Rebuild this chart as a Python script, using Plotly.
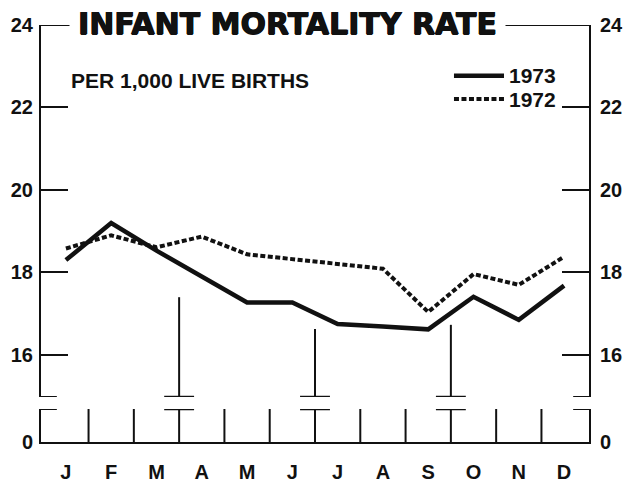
import plotly.graph_objects as go

# ---- data ----
months = ["J", "F", "M", "A", "M", "J", "J", "A", "S", "O", "N", "D"]
rate_1973 = [18.30, 19.20, 18.53, 17.89, 17.27, 17.27, 16.75, 16.69, 16.62, 17.41, 16.85, 17.68]
rate_1972 = [18.58, 18.90, 18.61, 18.87, 18.44, 18.33, 18.21, 18.09, 17.04, 17.96, 17.70, 18.38]
upper_ticks = [16, 18, 20, 22, 24]
lower_ticks = [0]
break_positions = [2.5, 5.5, 8.5]      # month boundaries M|A, J|J, S|O
break_tops = [17.40, 16.63, 16.73]     # top of the long break lines

x = list(range(len(months)))
X_MIN, X_MAX = -0.55, len(months) - 0.45
Y_LOW, Y_TOP = 14.98, 24.0
FONT = "Liberation Sans, Arial, sans-serif"
BLACK = "#111111"

fig = go.Figure()
fig.add_trace(go.Scatter(x=x, y=rate_1972, mode="lines", name="1972",
                         line=dict(color=BLACK, width=4, dash="5px,2.5px"),
                         xaxis="x", yaxis="y", showlegend=False, hoverinfo="skip"))
fig.add_trace(go.Scatter(x=x, y=rate_1973, mode="lines", name="1973",
                         line=dict(color=BLACK, width=4.5),
                         xaxis="x", yaxis="y", showlegend=False, hoverinfo="skip"))
# invisible helpers so the right-hand axes are drawn
fig.add_trace(go.Scatter(x=[0], y=[20], mode="markers", marker=dict(opacity=0),
                         yaxis="y3", showlegend=False, hoverinfo="skip"))
fig.add_trace(go.Scatter(x=[0], y=[0], mode="markers", marker=dict(opacity=0),
                         yaxis="y2", showlegend=False, hoverinfo="skip"))
fig.add_trace(go.Scatter(x=[0], y=[0], mode="markers", marker=dict(opacity=0),
                         yaxis="y4", showlegend=False, hoverinfo="skip"))

tickfont = dict(family=FONT, size=20, color=BLACK, weight="bold")
common_y = dict(showgrid=False, zeroline=False, showline=True, linecolor=BLACK,
                linewidth=2, tickfont=tickfont, anchor="x", automargin=False)

shapes = []
def seg(x0, y0, x1, y1, yref="y", xref="x", w=2, dash=None):
    ln = dict(color=BLACK, width=w)
    if dash:
        ln["dash"] = dash
    shapes.append(dict(type="line", xref=xref, yref=yref, x0=x0, y0=y0, x1=x1, y1=y1,
                       line=ln, layer="above"))

# top frame line at 24
seg(X_MIN, Y_TOP, X_MAX, Y_TOP)
# brackets at the axis break
bw = 0.35
seg(X_MIN, Y_LOW, X_MIN + bw, Y_LOW)
seg(X_MAX - bw, Y_LOW, X_MAX, Y_LOW)
seg(X_MIN, 1, X_MIN + bw, 1, yref="y2")
seg(X_MAX - bw, 1, X_MAX, 1, yref="y2")
# month boundary ticks in the lower band
for i in range(len(months) - 1):
    seg(i + 0.5, 0, i + 0.5, 1, yref="y2")
# break markers
hb = 0.33
for bx, top in zip(break_positions, break_tops):
    seg(bx, top, bx, Y_LOW)
    seg(bx - hb, Y_LOW, bx + hb, Y_LOW, w=2.5)
    seg(bx - hb, 1, bx + hb, 1, yref="y2", w=2.5)

# legend samples (paper coords)
seg(0.7536, 0.8784, 0.8449, 0.8784, xref="paper", yref="paper", w=4.5)
seg(0.7536, 0.8225, 0.8449, 0.8225, xref="paper", yref="paper", w=4, dash="5px,2.5px")

heavy = "0.7px 0px 0px #111111, -0.5px 0px 0px #111111, 0px 0.6px 0px #111111"
annotations = [
    dict(text="INFANT MORTALITY RATE", x=0.4498, y=1.003, xref="paper", yref="paper",
         xanchor="center", yanchor="middle", showarrow=False, bgcolor="white", borderpad=8,
         font=dict(family="DejaVu Sans", size=30, color=BLACK, weight="bold", shadow=heavy)),
    dict(text="PER 1,000 LIVE BIRTHS", x=0.051, y=0.868, xref="paper", yref="paper",
         xanchor="left", yanchor="middle", showarrow=False,
         font=dict(family=FONT, size=21, color=BLACK, weight="bold")),
    dict(text="1973", x=0.850, y=0.8784, xref="paper", yref="paper",
         xanchor="left", yanchor="middle", showarrow=False,
         font=dict(family=FONT, size=21, color=BLACK, weight="bold")),
    dict(text="1972", x=0.850, y=0.8225, xref="paper", yref="paper",
         xanchor="left", yanchor="middle", showarrow=False,
         font=dict(family=FONT, size=21, color=BLACK, weight="bold")),
]

fig.update_layout(
    width=629, height=484,
    margin=dict(l=41, r=40, t=25, b=42, autoexpand=False),
    paper_bgcolor="white", plot_bgcolor="white",
    showlegend=False,
    xaxis=dict(domain=[0, 1], range=[X_MIN, X_MAX], anchor="y2", automargin=False,
               tickvals=x, ticktext=months, ticks="", showgrid=False, zeroline=False,
               showline=True, linecolor=BLACK, linewidth=2, tickfont=tickfont,
               ticklabelstandoff=11),
    yaxis=dict(domain=[0.1079, 1], range=[Y_LOW, Y_TOP], tickvals=upper_ticks,
               ticks="inside", ticklen=27, tickwidth=2, tickcolor=BLACK,
               ticklabelstandoff=2, **common_y),
    yaxis3=dict(overlaying="y", side="right", matches="y", tickvals=upper_ticks,
                ticks="inside", ticklen=27, tickwidth=2, tickcolor=BLACK,
                ticklabelstandoff=5, **common_y),
    yaxis2=dict(domain=[0, 0.0791], range=[0, 1], tickvals=lower_ticks, ticks="",
                ticklabelstandoff=2, **common_y),
    yaxis4=dict(overlaying="y2", side="right", matches="y2", tickvals=lower_ticks,
                ticks="", ticklabelstandoff=5, **common_y),
    shapes=shapes,
    annotations=annotations,
)

fig.write_html("out.html", config={"displayModeBar": False, "staticPlot": True},
               post_script="document.body.style.margin='0';document.body.style.padding='0';"
                           "document.body.style.overflow='hidden';")
